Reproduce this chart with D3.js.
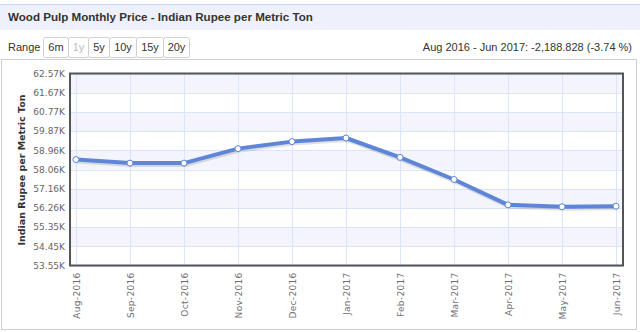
<!DOCTYPE html>
<html><head><meta charset="utf-8">
<script src="https://cdn.jsdelivr.net/npm/d3@7/dist/d3.min.js"></script>
<style>
html,body{margin:0;padding:0;background:#fff;}
svg{display:block;}
</style></head>
<body>
<svg id="c" width="640" height="332"></svg>
<script>
const months = ["Aug-2016","Sep-2016","Oct-2016","Nov-2016","Dec-2016","Jan-2017","Feb-2017","Mar-2017","Apr-2017","May-2017","Jun-2017"];
const prices = [58525, 58360, 58360, 59040, 59370, 59540, 58630, 57590, 56400, 56310, 56336];
const yTicks = [53550, 54452, 55354, 56256, 57158, 58060, 58962, 59864, 60766, 61668, 62570];
const yTickLabels = ["53.55K","54.45K","55.35K","56.26K","57.16K","58.06K","58.96K","59.87K","60.77K","61.67K","62.57K"];
const rangeButtons = ["6m","1y","5y","10y","15y","20y"];
const titleText = "Wood Pulp Monthly Price - Indian Rupee per Metric Ton";
const changeText = "Aug 2016 - Jun 2017: -2,188.828 (-3.74 %)";
const yTitle = "Indian Rupee per Metric Ton";

const svg = d3.select("#c");
const sans = "'Liberation Sans', Arial, sans-serif";
const dv = "'DejaVu Sans', Verdana, sans-serif";

// header
svg.append("rect").attr("x",0).attr("y",4).attr("width",640).attr("height",26).attr("fill","#eef1fb");
svg.append("line").attr("x1",0).attr("x2",640).attr("y1",4.5).attr("y2",4.5).attr("stroke","#c9d3f2").attr("stroke-width",1);
svg.append("text").attr("x",8).attr("y",21).attr("font-family",sans).attr("font-size",11.6).attr("font-weight","bold").attr("fill","#333").text(titleText);

// range selector
svg.append("text").attr("x",8).attr("y",51).attr("font-family",sans).attr("font-size",11).attr("fill","#333").text("Range");
const btnW = [25,20,21,27,27,26];
let bx = 43.5;
const bg = svg.append("g");
rangeButtons.forEach((b,i)=>{
  bg.append("rect").attr("x",bx).attr("y",37.5).attr("width",btnW[i]).attr("height",20).attr("rx",2)
    .attr("fill","#fff").attr("stroke","#d0d0d0");
  bg.append("text").attr("x",bx+btnW[i]/2).attr("y",51).attr("text-anchor","middle").attr("font-family",sans)
    .attr("font-size",11).attr("fill", b==="1y" ? "#bbb" : "#333").text(b);
  bx += btnW[i];
});
svg.append("text").attr("x",632).attr("y",51).attr("text-anchor","end").attr("font-family",sans).attr("font-size",11).attr("fill","#333").text(changeText);

// outer frame
svg.append("rect").attr("x",1.5).attr("y",59.5).attr("width",635).attr("height",270).attr("fill","none").attr("stroke","#cfcfcf");

// plot
const L = 70, R = 623, T = 73.5, B = 265.5;
const x = d3.scalePoint().domain(months).range([L+6, R-7]);
const y = d3.scaleLinear().domain([yTicks[0], yTicks[yTicks.length-1]]).range([B, T]);

// alternate bands
for (let i = 0; i < yTicks.length-1; i++) {
  const fromTop = yTicks.length-2-i;
  if (fromTop % 2 === 0) {
    svg.append("rect").attr("x",L).attr("width",R-L).attr("y",y(yTicks[i+1])).attr("height",y(yTicks[i])-y(yTicks[i+1])).attr("fill","#f4f5fc");
  }
}
// grid
const grid = svg.append("g").attr("stroke","#dbe4fb").attr("stroke-width",1);
yTicks.forEach(t=>grid.append("line").attr("x1",L).attr("x2",R).attr("y1",Math.round(y(t))+0.5).attr("y2",Math.round(y(t))+0.5));
months.forEach(m=>grid.append("line").attr("y1",T).attr("y2",B).attr("x1",Math.round(x(m))+0.5).attr("x2",Math.round(x(m))+0.5));

// y axis labels
const yAxis = d3.axisLeft(y).tickValues(yTicks).tickFormat((d,i)=>yTickLabels[i]).tickSize(0).tickPadding(5);
const ya = svg.append("g").attr("transform",`translate(${L},0)`).call(yAxis);
ya.select(".domain").remove();
ya.selectAll("text").attr("font-family",dv).attr("font-size",9).attr("fill","#666");

// x axis labels
const xAxis = d3.axisBottom(x).tickSize(0).tickPadding(0);
const xa = svg.append("g").attr("transform",`translate(0,${B})`).call(xAxis);
xa.select(".domain").remove();
xa.selectAll("text").attr("font-family",dv).attr("font-size",9).attr("fill","#6e6e6e").attr("letter-spacing",0.3)
  .attr("text-anchor","end").attr("transform","translate(3,7) rotate(-90)").attr("dy",0).attr("y",0).attr("x",0);

// y title
svg.append("text").attr("transform","translate(25,170) rotate(-90)").attr("text-anchor","middle")
  .attr("font-family",dv).attr("font-size",9.5).attr("font-weight","bold").attr("fill","#333").text(yTitle);

// line
const line = d3.line().x((d,i)=>x(months[i])).y(d=>y(d));
svg.append("path").datum(prices).attr("d",line).attr("fill","none").attr("stroke","rgba(0,0,0,0.12)").attr("stroke-width",5)
  .attr("transform","translate(1,1.5)").attr("stroke-linejoin","round");
svg.append("path").datum(prices).attr("d",line).attr("fill","none").attr("stroke","#5d85d8").attr("stroke-width",4).attr("stroke-linejoin","round");
svg.selectAll("circle.pt").data(prices).enter().append("circle").attr("class","pt")
  .attr("cx",(d,i)=>x(months[i])).attr("cy",d=>y(d)).attr("r",3).attr("fill","#fff").attr("stroke","#5d85d8").attr("stroke-width",1);

// plot border
svg.append("rect").attr("x",L).attr("y",T).attr("width",R-L).attr("height",B-T).attr("fill","none").attr("stroke","#555").attr("stroke-width",2);
</script>
</body></html>
